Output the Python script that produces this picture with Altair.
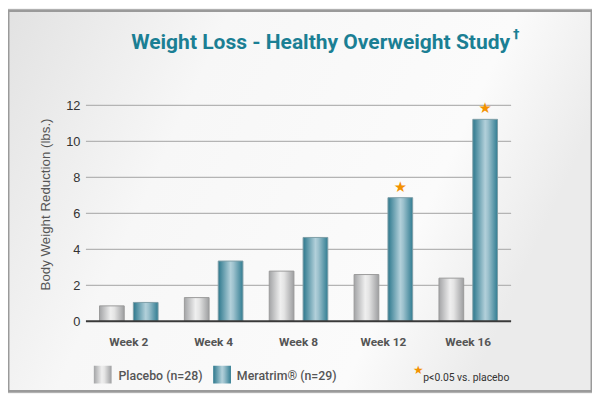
import altair as alt
import pandas as pd

weeks = ["Week 2", "Week 4", "Week 8", "Week 12", "Week 16"]
placebo = [0.86, 1.32, 2.79, 2.60, 2.40]
meratrim = [1.05, 3.35, 4.66, 6.87, 11.22]
meratrim_sig = [False, False, False, True, True]
series_names = ["Placebo", "Meratrim"]
legend_labels = ["Placebo (n=28)", "Meratrim® (n=29)"]
note_text = "p<0.05 vs. placebo"
title_text = "Weight Loss - Healthy Overweight Study"
y_title = "Body Weight Reduction (lbs.)"
y_ticks = [0, 2, 4, 6, 8, 10, 12]

rows = []
for w, p, m, s in zip(weeks, placebo, meratrim, meratrim_sig):
    rows.append({"week": w, "series": "Placebo", "value": p, "sig": False})
    rows.append({"week": w, "series": "Meratrim", "value": m, "sig": s})
df = pd.DataFrame(rows)

W, H = 431, 219
TEAL = "#1b7f94"

grad_placebo = {"gradient": "linear", "x1": 0, "x2": 1, "y1": 0, "y2": 0,
                "stops": [{"offset": 0, "color": "#a3a4a6"},
                          {"offset": 0.45, "color": "#efefef"},
                          {"offset": 0.6, "color": "#e4e4e4"},
                          {"offset": 1, "color": "#9d9ea0"}]}
grad_meratrim = {"gradient": "linear", "x1": 0, "x2": 1, "y1": 0, "y2": 0,
                 "stops": [{"offset": 0, "color": "#2d788d"},
                           {"offset": 0.5, "color": "#b2d0da"},
                           {"offset": 0.62, "color": "#9cc1cd"},
                           {"offset": 1, "color": "#327d92"}]}
grad_bg = {"gradient": "linear", "x1": 0, "x2": 1, "y1": 0, "y2": 0.3,
           "stops": [{"offset": 0, "color": "#e2e2e2"},
                     {"offset": 0.35, "color": "#f7f7f7"},
                     {"offset": 0.8, "color": "#fbfbfb"},
                     {"offset": 1, "color": "#ebebeb"}]}

x_enc = alt.X("week:N", sort=weeks,
              scale=alt.Scale(domain=weeks, paddingInner=0.31, paddingOuter=0.16),
              axis=alt.Axis(title=None, labelAngle=0, ticks=False, domain=False,
                            labelPadding=15, labelFont="Roboto", labelFontWeight="bold",
                            labelFontSize=12, labelColor="#555555", zindex=2))
xo_enc = alt.XOffset("series:N", scale=alt.Scale(domain=series_names, paddingInner=0.27))
y_scale = alt.Scale(domain=[0, 12], nice=False)
y_axis = alt.Axis(values=y_ticks, title=y_title,
                  titleFont="Liberation Sans", titleFontWeight="normal",
                  titleFontSize=13.5, titleColor="#555555", titlePadding=13, titleY=100,
                  labelFont="Liberation Sans", labelFontSize=13,
                  labelColor="#333333", labelPadding=6, ticks=False,
                  domain=False, grid=False, zindex=2)
y_enc = alt.Y("value:Q", scale=y_scale, axis=y_axis)

base = alt.Chart(df)

bg = alt.Chart(pd.DataFrame({"k": [0]})).mark_rect(
    fill=grad_bg, stroke="#9a9a9a", strokeWidth=3).encode(
    x=alt.value(-79), x2=alt.value(W + 82), y=alt.value(-96), y2=alt.value(H + 71))

grid = alt.Chart(pd.DataFrame({"v": y_ticks[1:]})).mark_rule(
    color="#b4b4b4", strokeWidth=1.2).encode(
    y=alt.Y("v:Q", scale=y_scale, axis=y_axis), x=alt.value(0), x2=alt.value(W))

bars_p = base.transform_filter(alt.datum.series == "Placebo").mark_bar(
    fill=grad_placebo, stroke="#9a9a9a", strokeWidth=1).encode(
    x=x_enc, xOffset=xo_enc, y=y_enc)
bars_m = base.transform_filter(alt.datum.series == "Meratrim").mark_bar(
    fill=grad_meratrim, stroke="#7f9ea8", strokeWidth=1).encode(
    x=x_enc, xOffset=xo_enc, y=y_enc)

zero = alt.Chart(pd.DataFrame({"v": [0]})).mark_rule(color="#3a3a3a", strokeWidth=2).encode(
    y=alt.Y("v:Q", scale=y_scale, axis=y_axis), x=alt.value(0), x2=alt.value(W))

stars = base.transform_filter(alt.datum.sig).mark_text(
    text="★", color="#f39200", fontSize=15, dy=-11, font="DejaVu Sans").encode(
    x=x_enc, xOffset=xo_enc, y=y_enc)

title = alt.Chart(pd.DataFrame({"t": [title_text]})).mark_text(
    font="Roboto", fontWeight="bold", fontSize=21.3, color=TEAL, align="right",
    baseline="alphabetic").encode(text="t:N", x=alt.value(430), y=alt.value(-57))
dagger = alt.Chart(pd.DataFrame({"t": ["†"]})).mark_text(
    font="DejaVu Sans", fontWeight="bold", fontSize=13, color=TEAL, align="left",
    baseline="alphabetic").encode(text="t:N", x=alt.value(433), y=alt.value(-68))

leg_df = pd.DataFrame({"label": legend_labels, "series": series_names})
leg_rect_p = alt.Chart(leg_df).transform_filter(alt.datum.series == "Placebo").mark_rect(
    fill=grad_placebo).encode(x=alt.value(8), x2=alt.value(26), y=alt.value(264), y2=alt.value(282))
leg_rect_m = alt.Chart(leg_df).transform_filter(alt.datum.series == "Meratrim").mark_rect(
    fill=grad_meratrim).encode(x=alt.value(129), x2=alt.value(147), y=alt.value(264), y2=alt.value(282))
leg_txt_p = alt.Chart(leg_df).transform_filter(alt.datum.series == "Placebo").mark_text(
    font="Roboto", fontWeight=500, fontSize=12.5, color="#555555", align="left").encode(
    text="label:N", x=alt.value(33), y=alt.value(274))
leg_txt_m = alt.Chart(leg_df).transform_filter(alt.datum.series == "Meratrim").mark_text(
    font="Roboto", fontWeight=500, fontSize=12.5, color="#555555", align="left").encode(
    text="label:N", x=alt.value(153), y=alt.value(274))
note_star = alt.Chart(pd.DataFrame({"t": ["★"]})).mark_text(
    font="DejaVu Sans", fontSize=12, color="#f39200").encode(
    text="t:N", x=alt.value(337), y=alt.value(268))
note = alt.Chart(pd.DataFrame({"t": [note_text]})).mark_text(
    font="Roboto", fontSize=10.5, color="#333333", align="left").encode(
    text="t:N", x=alt.value(342), y=alt.value(276))

chart = alt.layer(bg, grid, bars_p, bars_m, zero, stars, title, dagger,
                  leg_rect_p, leg_rect_m, leg_txt_p, leg_txt_m, note_star, note).properties(
    width=W, height=H,
    autosize=alt.AutoSizeParams(type="none"),
    padding={"left": 79, "top": 96, "right": 82, "bottom": 71},
    background="#f4f4f4",
).configure_view(stroke=None)

chart.save("out.html", embed_options={"renderer": "svg", "actions": False})
